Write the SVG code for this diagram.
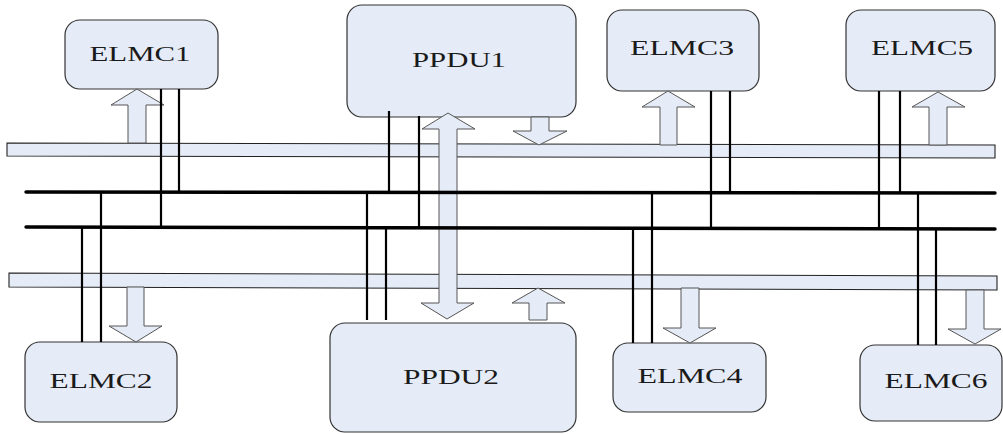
<svg xmlns="http://www.w3.org/2000/svg" width="1003" height="434" viewBox="0 0 1003 434">
<style>
.box{fill:#e6ecf7;stroke:#333;stroke-width:1.2}
.bar{fill:#e6ecf7;stroke:#222;stroke-width:1.1}
.arr{fill:#e6ecf7;stroke:#555;stroke-width:1}
.bus{stroke:#000;stroke-width:3.4;fill:none;stroke-linecap:round}
.wire{stroke:#000;stroke-width:2.2;fill:none}
.lbl{font-family:"Liberation Serif","Times New Roman",serif;font-size:20px;fill:#1a1a1a;text-anchor:middle}
</style>
<rect width="1003" height="434" fill="#fff"/>
<g id="bars">
<polygon class="bar" points="7,143 995,145 995,158 7,156"/>
<polygon class="bar" points="9,273 997,276 997,290 9,287"/>
</g>
<g id="node-ELMC1"><rect class="box" x="65" y="20" width="153" height="69" rx="15"/><text class="lbl" x="140" y="61" textLength="101" lengthAdjust="spacingAndGlyphs">ELMC1</text></g>
<g id="node-PPDU1"><rect class="box" x="347" y="5" width="229" height="112" rx="15"/><text class="lbl" x="459" y="67" textLength="94" lengthAdjust="spacingAndGlyphs">PPDU1</text></g>
<g id="node-ELMC3"><rect class="box" x="607" y="10" width="152" height="81" rx="15"/><text class="lbl" x="682" y="55" textLength="104" lengthAdjust="spacingAndGlyphs">ELMC3</text></g>
<g id="node-ELMC5"><rect class="box" x="846" y="10" width="149" height="81" rx="15"/><text class="lbl" x="922" y="55" textLength="102" lengthAdjust="spacingAndGlyphs">ELMC5</text></g>
<g id="node-ELMC2"><rect class="box" x="25" y="342" width="152" height="80" rx="15"/><text class="lbl" x="101" y="388" textLength="103" lengthAdjust="spacingAndGlyphs">ELMC2</text></g>
<g id="node-PPDU2"><rect class="box" x="330" y="323" width="246" height="109" rx="15"/><text class="lbl" x="451" y="384" textLength="96" lengthAdjust="spacingAndGlyphs">PPDU2</text></g>
<g id="node-ELMC4"><rect class="box" x="613" y="343" width="153" height="69" rx="15"/><text class="lbl" x="690" y="383" textLength="105" lengthAdjust="spacingAndGlyphs">ELMC4</text></g>
<g id="node-ELMC6"><rect class="box" x="860" y="345" width="142" height="76" rx="15"/><text class="lbl" x="936" y="388" textLength="103" lengthAdjust="spacingAndGlyphs">ELMC6</text></g>
<g id="connectors">
<polygon class="arr" points="137,89 164,105 146,105 146,143 128,143 128,105 111,105"/>
<polygon class="arr" points="448,113 475,129 457,129 457,303 474,303 447,319 421,303 439,303 439,129 422,129"/>
<polygon class="arr" points="531,117 549,117 549,131 567,131 539,145 513,131 531,131"/>
<polygon class="arr" points="668,91 695,107 677,107 677,145 660,145 660,107 642,107"/>
<polygon class="arr" points="938,92 965,107 947,107 947,145 929,145 929,107 912,107"/>
<polygon class="arr" points="127,287 144,287 144,326 162,326 136,342 109,326 127,326"/>
<polygon class="arr" points="538,288 565,303 547,303 547,320 529,320 529,303 512,303"/>
<polygon class="arr" points="681,288 699,288 699,328 716,328 690,343 663,328 681,328"/>
<polygon class="arr" points="966,290 984,290 984,329 1001,329 975,344 948,329 966,329"/>
<line class="bus" x1="26" y1="192" x2="995" y2="193"/>
<line class="bus" x1="26" y1="227" x2="995" y2="229"/>
<line class="wire" x1="161" y1="89" x2="161" y2="227"/>
<line class="wire" x1="179" y1="89" x2="179" y2="192"/>
<line class="wire" x1="101" y1="192" x2="101" y2="342"/>
<line class="wire" x1="82" y1="227" x2="82" y2="342"/>
<line class="wire" x1="389" y1="111" x2="389" y2="192"/>
<line class="wire" x1="419" y1="116" x2="419" y2="227"/>
<line class="wire" x1="367" y1="192" x2="367" y2="320"/>
<line class="wire" x1="386" y1="227" x2="386" y2="320"/>
<line class="wire" x1="652" y1="192" x2="652" y2="343"/>
<line class="wire" x1="633" y1="228" x2="633" y2="343"/>
<line class="wire" x1="711" y1="91" x2="711" y2="228"/>
<line class="wire" x1="730" y1="91" x2="730" y2="192"/>
<line class="wire" x1="879" y1="91" x2="879" y2="229"/>
<line class="wire" x1="900" y1="91" x2="900" y2="193"/>
<line class="wire" x1="918" y1="193" x2="918" y2="345"/>
<line class="wire" x1="936" y1="229" x2="936" y2="345"/>
</g>
</svg>
